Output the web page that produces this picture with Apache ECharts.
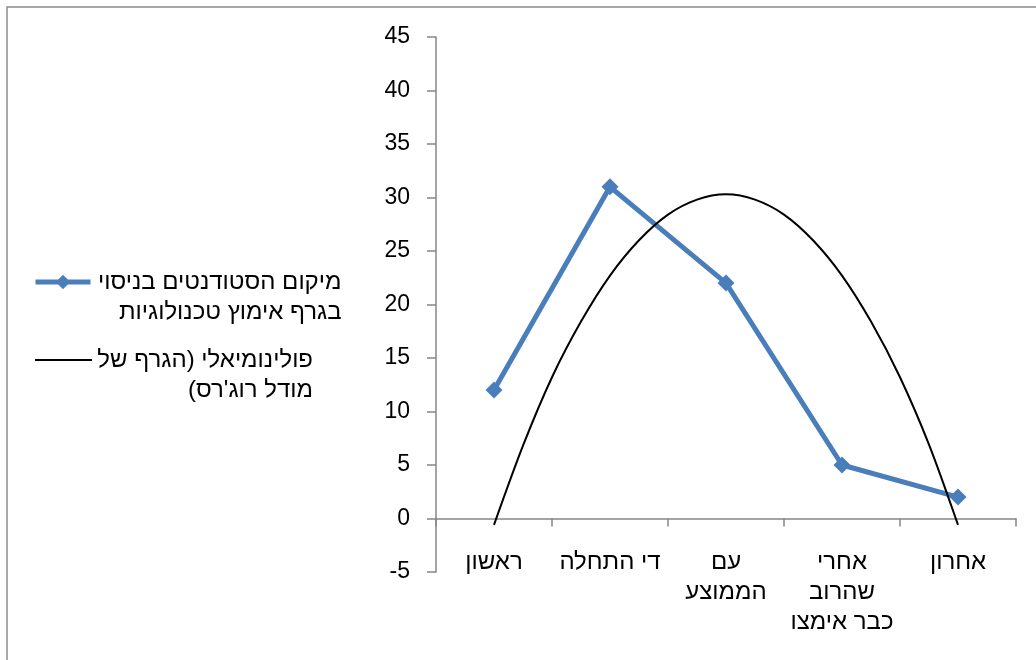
<!DOCTYPE html>
<html>
<head>
<meta charset="utf-8">
<script src="https://cdn.jsdelivr.net/npm/echarts@6/dist/echarts.min.js"></script>
<style>
html,body{margin:0;padding:0;background:#fff;}
#c{width:1036px;height:660px;}
</style>
</head>
<body>
<div id="c" dir="rtl"></div>
<script>
// Categories (as wrapped in the reference)
const categories = ['ראשון', 'די התחלה', 'עם\nהממוצע', 'אחרי\nשהרוב\nכבר אימצו', 'אחרון'];
// Main series
const seriesName = 'מיקום הסטודנטים בניסוי\nבגרף אימוץ טכנולוגיות';
const studentValues = [12, 31, 22, 5, 2];
// Polynomial (Rogers model) curve: x position (category 1..5), y value
const curveName = 'פולינומיאלי (הגרף של\nמודל רוג\'רס)';
const curveX = [1, 1.25, 1.5, 1.75, 2, 2.25, 2.5, 2.75, 3, 3.25, 3.5, 3.75, 4, 4.25, 4.5, 4.75, 5];
const curveY = [-0.6, 6.8, 13.2, 18.4, 22.7, 26.0, 28.4, 29.8, 30.3, 29.8, 28.4, 26.0, 22.7, 18.4, 13.2, 6.9, -0.6];
// Y axis
const yMin = -5, yMax = 45, yStep = 5;

const FONT = '"Liberation Sans", "DejaVu Sans", Arial, sans-serif';
const chart = echarts.init(document.getElementById('c'), null, {renderer: 'canvas'});

function legendFmt(name) {
  return name.split('\n').map(l => '{r|' + l + '}').join('\n');
}

const option = {
  backgroundColor: '#fff',
  animation: false,
  textStyle: {fontFamily: FONT},
  graphic: [{
    type: 'rect', silent: true, z: -10,
    shape: {x: 7, y: 7, width: 1200, height: 800},
    style: {fill: 'none', stroke: '#8c8c8c', lineWidth: 1.5}
  }],
  grid: {left: 436, right: 20, top: 37, bottom: 88, containLabel: false, outerBoundsMode: 'none'},
  legend: [{
    orient: 'vertical', left: 33, top: 270, padding: 0,
    data: [seriesName], itemWidth: 55, itemHeight: 18, itemGap: 0,
    formatter: legendFmt,
    lineStyle: {width: 5, color: '#4a7ebb'},
    itemStyle: {color: '#4a7ebb'},
    textStyle: {
      fontFamily: FONT, fontSize: 24, color: '#000', padding: [30, 0, 0, 0],
      rich: {r: {fontFamily: FONT, fontSize: 24, lineHeight: 30, width: 246, align: 'right', color: '#000'}}
    }
  }, {
    orient: 'vertical', left: 35, top: 348, padding: 0,
    data: [{name: curveName, icon: 'rect'}], itemWidth: 57, itemHeight: 2, itemGap: 0,
    formatter: legendFmt,
    itemStyle: {color: '#000'},
    textStyle: {
      fontFamily: FONT, fontSize: 24, color: '#000', padding: [30, 0, 0, 0],
      rich: {r: {fontFamily: FONT, fontSize: 24, lineHeight: 30, width: 216, align: 'right', color: '#000'}}
    }
  }],
  xAxis: [{
    type: 'category', data: categories, boundaryGap: true,
    axisLine: {onZero: true, lineStyle: {color: '#868686', width: 1.5}},
    axisTick: {show: true, inside: false, length: 8, lineStyle: {color: '#868686', width: 1.5}},
    axisLabel: {color: '#000', fontSize: 24, fontFamily: FONT, margin: -25, lineHeight: 30, interval: 0, align: 'center'},
    splitLine: {show: false}
  }, {
    type: 'value', min: 0.5, max: 5.5, show: false, position: 'bottom',
    axisLine: {onZero: false}, splitLine: {show: false}
  }],
  yAxis: {
    type: 'value', min: yMin, max: yMax, interval: yStep,
    axisLine: {show: true, onZero: false, lineStyle: {color: '#868686', width: 1.5}},
    axisTick: {show: true, inside: false, length: 9, lineStyle: {color: '#868686', width: 1.5}},
    axisLabel: {color: '#000', fontSize: 23, fontFamily: FONT, margin: 26, formatter: v => '\u200E' + v},
    splitLine: {show: false}
  },
  series: [{
    name: curveName, type: 'line', xAxisIndex: 1, yAxisIndex: 0,
    data: curveX.map((x, i) => [x, curveY[i]]),
    smooth: 0.3, showSymbol: false, symbol: 'none',
    lineStyle: {color: '#000', width: 2}, itemStyle: {color: '#000'}, z: 3
  }, {
    name: seriesName, type: 'line', xAxisIndex: 0, yAxisIndex: 0,
    data: studentValues,
    symbol: 'diamond', symbolSize: 17,
    lineStyle: {color: '#4a7ebb', width: 5}, itemStyle: {color: '#4a7ebb'}, z: 2
  }]
};
chart.setOption(option);
</script>
</body>
</html>
